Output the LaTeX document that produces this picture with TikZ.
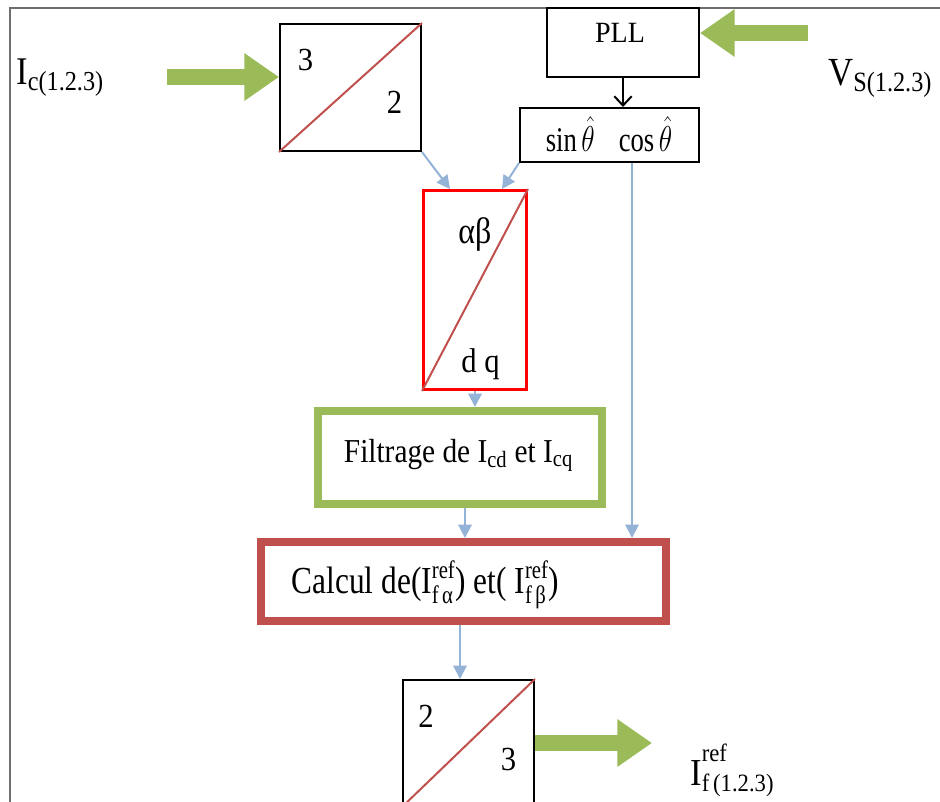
\documentclass[tikz,border=0pt]{standalone}
\usepackage{fontspec}
\setmainfont{Liberation Serif}
\usetikzlibrary{arrows.meta,calc}
\definecolor{gfill}{HTML}{9BBB59}
\definecolor{rbrown}{HTML}{C0504D}
\definecolor{lblue}{HTML}{95B3D7}
\definecolor{framegray}{HTML}{6E6E6E}
\newcommand\fs[1]{\fontsize{#1}{#1}\selectfont}
\newcommand\vstretch[2]{\scalebox{1}[#1]{#2}}
\tikzset{
  blk/.style={draw=black, line width=1.5pt, inner sep=0pt},
  diagline/.style={draw=rbrown, line width=1.5pt},
  fat/.style={draw=gfill, line width=12pt, -{Triangle[length=26pt,width=34pt]}},
  thinarrow/.style={draw=lblue, line width=1.5pt, -{Triangle[length=10pt,width=10pt]}},
  lbl/.style={inner sep=0pt, anchor=base west, font=\fs{26}},
  txt/.style={inner sep=0pt, anchor=base},
}
\begin{document}
\begin{tikzpicture}[x=0.75pt,y=-0.75pt]
\useasboundingbox (0,0) rectangle (940,801);
\clip (0,0) rectangle (940,801);
\fill[white] (0,0) rectangle (940,801);
% frame
\draw[framegray, line width=1.6pt] (941,8) -- (10,8) -- (10,802);

% boxes
\node[blk, minimum width=105.75pt, minimum height=95.25pt] (b32) at (350.5,87.5) {};
\draw[diagline] (b32.south west) -- (b32.north east);
\node[txt, font=\fs{23}] (b32a) at (305.5,70) {\vstretch{1.05}{3}};
\node[txt, font=\fs{23}] (b32b) at (394.5,113) {\vstretch{1.1}{2}};

\node[blk, minimum width=114pt, minimum height=51.75pt] (pll) at (623,42.5) {};
\node[txt, font=\fs{21}] (pllt) at (620,42) {\vstretch{1.05}{PLL}};

\node[blk, minimum width=134.25pt, minimum height=40.5pt] (sc) at (609.5,135) {};
\node[txt, font=\fs{20}] (sct) at (609,151) {\vstretch{1.3}{sin\,$\hat{\theta}$\hspace{0.9em}cos\,$\hat{\theta}$}};

\node[draw=red, line width=2.25pt, inner sep=0pt, minimum width=77.25pt, minimum height=149.25pt] (rb) at (475,290) {};
\draw[diagline] (rb.south west) -- (rb.north east);
\node[txt, font=\fs{24}] (rba) at (475,243) {\vstretch{1.15}{αβ}};
\node[txt, font=\fs{23}] (rbb) at (480.5,372) {\vstretch{1.12}{d q}};

\node[draw=gfill, line width=6pt, inner sep=0pt, minimum width=213pt, minimum height=69.75pt] (gb) at (460,457.5) {};
\node[txt, font=\fs{22}] (gbt) at (458.5,462) {\vstretch{1.14}{Filtrage de I\textsubscript{cd} et I\textsubscript{cq}}};

\node[draw=rbrown, line width=6pt, inner sep=0pt, minimum width=303.75pt, minimum height=59.25pt] (calc) at (463.5,581.5) {};
\node[txt, font=\fs{23.5}] (calct) at (425.5,593) {\vstretch{1.22}{Calcul de(I$^{\hbox{\fs{15.5}ref}}_{\hbox{\fs{15.5}f\,α}}$) et( I$^{\hbox{\fs{15.5}ref}}_{\hbox{\fs{15.5}f\,β}}$)}};

\node[blk, minimum width=98.25pt, minimum height=94.5pt] (b23) at (468.5,743) {};
\draw[diagline] (b23.south west) -- (b23.north east);
\node[txt, font=\fs{23}] (b23a) at (426,727) {\vstretch{1.1}{2}};
\node[txt, font=\fs{23}] (b23b) at (508.5,770) {\vstretch{1.1}{3}};

% labels
\node[lbl] (lic) at (16,84) {\vstretch{1.13}{I\textsubscript{c(1.2.3)}}};
\node[lbl] (lvs) at (828,85) {\vstretch{1.15}{V\textsubscript{S(1.2.3)}}};
\node[lbl] (lif) at (690,785) {\vstretch{1.1}{I\rlap{\raisebox{0.62em}{\fs{17}ref}}\raisebox{-0.16em}{\fs{17}f\,(1.2.3)}}};

% fat green arrows
\coordinate (icstart) at (167,77);
\draw[fat] (icstart) -- (icstart -| b32.west);
\coordinate (vsstart) at (808,33);
\draw[fat] (vsstart) -- (vsstart -| pll.east);
\coordinate (ifend) at (652,743);
\draw[fat] (b23.east) -- (ifend);

% black arrow
\draw[line width=1.5pt, -{Straight Barb[length=7pt,width=13pt]}] (pll.south) -- (pll.south |- sc.north);

% blue arrows
\draw[thinarrow] (b32.south east) -- ($(rb.north west)+(28,0)$);
\draw[thinarrow] (sc.south west) -- ($(rb.north east)+(-26,0)$);
\coordinate (cosd) at ($(sc.south)+(22.5,0)$);
\draw[thinarrow] (cosd) -- (cosd |- calc.north);
\draw[thinarrow] (rb.south) -- (rb.south |- gb.north);
\coordinate (gbo) at ($(gb.south)+(5,0)$);
\draw[thinarrow] (gbo) -- (gbo |- calc.north);
\coordinate (cao) at ($(calc.south)+(-3.5,0)$);
\draw[thinarrow] (cao) -- (cao |- b23.north);
\end{tikzpicture}
\end{document}
